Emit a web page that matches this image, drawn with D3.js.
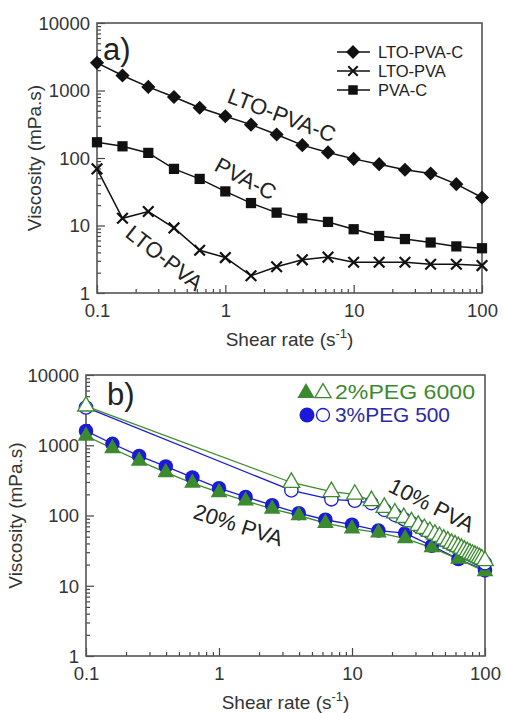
<!DOCTYPE html>
<html>
<head>
<meta charset="utf-8">
<script src="https://cdn.jsdelivr.net/npm/d3@7"></script>
<style>
  body { margin: 0; background: #fff; }
  text { font-family: "Liberation Sans", Arial, sans-serif; }
</style>
</head>
<body>
<div id="chart"></div>
<script>
// shear rates (s-1) used by most series
var rates = [0.1, 0.158, 0.251, 0.398, 0.631, 1, 1.585, 2.51, 3.98, 6.31, 10, 15.8, 25.1, 39.8, 63.1, 100];

// panel a
var ltoPvaC = [2570, 1670, 1130, 800, 555, 415, 312, 223, 155, 121, 97, 81, 67, 59, 41, 26];
var ltoPva  = [69, 12.8, 16.1, 9.2, 4.3, 3.35, 1.8, 2.45, 3.1, 3.4, 2.85, 2.85, 2.85, 2.67, 2.67, 2.55];
var pvaC    = [171, 149, 119, 69, 49, 32, 21.5, 15.5, 12.8, 11.3, 8.8, 7.0, 6.3, 5.6, 4.9, 4.6];

// panel b, 20% PVA (filled markers)
var peg6000_20 = [1360, 900, 600, 410, 290, 213, 162, 124, 100, 78, 65, 57, 47, 35, 24, 16];
var peg500_20  = [1600, 1050, 705, 500, 348, 245, 184, 140, 108, 87, 74, 61, 56, 37, 24, 16.5];

// panel b, 10% PVA (open markers)
var rates10 = [0.1, 3.5, 7, 10.5, 14, 17.5, 21, 24.5, 28, 31.5, 35, 38.5, 42, 45.5, 49, 52.5, 56, 59.5, 63, 66.5, 70, 73.5, 77, 80.5, 84, 87.5, 91, 94.5, 100];
var peg6000_10 = [3600, 295, 218, 200, 162, 130, 108, 93, 81, 72, 65, 59, 54, 50, 46, 43, 40, 38, 36, 34, 32, 30.5, 29, 28, 27, 26, 25, 24, 22.6];
var peg500_10  = [3450, 228, 170, 162, 150, 120, 102, 89, 78, 70, 63, 57, 52, 48, 44.5, 41.5, 39, 37, 35, 33, 31, 29.5, 28, 27, 26, 25, 24, 23, 21];

var yTicks = [1, 10, 100, 1000, 10000];
var xTicks = [0.1, 1, 10, 100];

var W = 505, H = 713;
var green = "#3c8a2e", blue = "#1a1ad8";

var svg = d3.select("#chart").append("svg")
  .attr("width", W).attr("height", H);

function minorTicks(lo, hi){
  var out = [];
  for (var e = Math.log10(lo); e < Math.log10(hi); e++) {
    for (var k = 2; k <= 9; k++) out.push(k * Math.pow(10, e));
  }
  return out;
}

function drawFrame(p){
  var g = svg.append("g");
  var x = d3.scaleLog().domain([0.1, 100]).range([p.left, p.right]);
  var y = d3.scaleLog().domain([1, 10000]).range([p.bottom, p.top]);

  // minor ticks
  g.append("g").attr("transform", "translate(" + p.left + ",0)")
    .call(d3.axisLeft(y).tickValues(minorTicks(1, 10000)).tickSize(-4).tickFormat(""));
  g.append("g").attr("transform", "translate(0," + p.bottom + ")")
    .call(d3.axisBottom(x).tickValues(minorTicks(0.1, 100)).tickSize(-4).tickFormat(""));

  // major ticks + labels
  var ya = g.append("g").attr("transform", "translate(" + p.left + ",0)")
    .call(d3.axisLeft(y).tickValues(yTicks).tickSize(-8).tickPadding(7).tickFormat(d3.format("d")));
  var xa = g.append("g").attr("transform", "translate(0," + p.bottom + ")")
    .call(d3.axisBottom(x).tickValues(xTicks).tickSize(-8).tickPadding(11).tickFormat(function(d){ return d < 1 ? "0.1" : d3.format("d")(d); }));
  g.selectAll(".domain").remove();
  g.selectAll(".tick line").attr("stroke", "#444").attr("stroke-width", 1.2);
  ya.selectAll("text").attr("font-size", 18.5).attr("fill", "#333").attr("dy", "0.35em");
  xa.selectAll("text").attr("font-size", 18.5).attr("fill", "#333");

  g.append("rect")
    .attr("x", p.left).attr("y", p.top)
    .attr("width", p.right - p.left).attr("height", p.bottom - p.top)
    .attr("fill", "none").attr("stroke", "#555").attr("stroke-width", 1.6);

  // axis titles
  var xt = g.append("text").attr("x", (p.left + p.right) / 2).attr("y", p.xTitleY)
    .attr("text-anchor", "middle").attr("font-size", 19).attr("fill", "#333");
  xt.append("tspan").text("Shear rate (s");
  xt.append("tspan").attr("dy", -8).attr("font-size", 13).text("-1");
  xt.append("tspan").attr("dy", 8).text(")");

  g.append("text")
    .attr("transform", "translate(" + p.yTitleX + "," + ((p.top + p.bottom) / 2) + ") rotate(-90)")
    .attr("text-anchor", "middle").attr("font-size", 19).attr("fill", "#333")
    .text("Viscosity (mPa.s)");

  return { x: x, y: y };
}

function path(sc, xs, ys, color, w){
  svg.append("path")
    .datum(xs.map(function(d, i){ return [d, ys[i]]; }))
    .attr("fill", "none").attr("stroke", color).attr("stroke-width", w)
    .attr("d", d3.line().x(function(d){ return sc.x(d[0]); }).y(function(d){ return sc.y(d[1]); }));
}

function markers(sc, xs, ys, type, size, fill, stroke, sw){
  svg.append("g").selectAll("path")
    .data(xs.map(function(d, i){ return [d, ys[i]]; }))
    .enter().append("path")
    .attr("transform", function(d){
      var t = "translate(" + sc.x(d[0]) + "," + sc.y(d[1]) + ")";
      return type === "diamond" ? t + " rotate(45)" : t;
    })
    .attr("d", d3.symbol().type(
      type === "circle" ? d3.symbolCircle :
      type === "triangle" ? d3.symbolTriangle :
      type === "cross" ? d3.symbolTimes : d3.symbolSquare).size(size))
    .attr("fill", fill).attr("stroke", stroke).attr("stroke-width", sw);
}

// ---------- panel a ----------
var a = drawFrame({ left: 97, right: 482, top: 23, bottom: 293, xTitleY: 346, yTitleX: 41 });

path(a, rates, ltoPvaC, "#111", 1.5);
path(a, rates, pvaC, "#111", 1.5);
path(a, rates, ltoPva, "#111", 1.5);
markers(a, rates, ltoPvaC, "diamond", 100, "#111", "none", 0);
markers(a, rates, pvaC, "square", 105, "#111", "none", 0);
markers(a, rates, ltoPva, "cross", 75, "none", "#111", 2.2);

svg.append("text").attr("x", 103).attr("y", 60).attr("font-size", 31).attr("fill", "#222").text("a)");

function rotLabel(txt, x, y, ang, size, color){
  svg.append("text").attr("transform", "translate(" + x + "," + y + ") rotate(" + ang + ")")
    .attr("font-size", size).attr("fill", color || "#222").text(txt);
}
rotLabel("LTO-PVA-C", 226, 102, 21, 22);
rotLabel("PVA-C", 213, 170, 28, 22);
rotLabel("LTO-PVA", 124, 236, 38, 22);

// legend a
var legA = [["LTO-PVA-C", "diamond", 95], ["LTO-PVA", "cross", 60], ["PVA-C", "square", 90]];
legA.forEach(function(l, i){
  var ly = 52 + i * 19;
  svg.append("line").attr("x1", 337).attr("x2", 370).attr("y1", ly).attr("y2", ly)
    .attr("stroke", "#111").attr("stroke-width", 1.5);
  svg.append("path").attr("transform", "translate(353," + ly + ")" + (l[1] === "diamond" ? " rotate(45)" : ""))
    .attr("d", d3.symbol().type(l[1] === "cross" ? d3.symbolTimes : d3.symbolSquare).size(l[2]))
    .attr("fill", l[1] === "cross" ? "none" : "#111")
    .attr("stroke", l[1] === "cross" ? "#111" : "none").attr("stroke-width", 2);
  svg.append("text").attr("x", 378).attr("y", ly + 6).attr("font-size", 16.5).attr("fill", "#222").text(l[0]);
});

// ---------- panel b ----------
var b = drawFrame({ left: 86, right: 485, top: 375, bottom: 656, xTitleY: 709, yTitleX: 22 });

path(b, rates10, peg500_10, blue, 1.3);
path(b, rates10, peg6000_10, green, 1.3);
path(b, rates, peg500_20, blue, 1.3);
path(b, rates, peg6000_20, green, 1.3);
markers(b, rates, peg500_20, "circle", 165, blue, "none", 0);
markers(b, rates, peg6000_20, "triangle", 120, green, "none", 0);
markers(b, rates10, peg500_10, "circle", 140, "#fff", blue, 1.3);
markers(b, rates10, peg6000_10, "triangle", 120, "#fff", green, 1.3);

svg.append("text").attr("x", 107).attr("y", 405).attr("font-size", 31).attr("fill", "#222").text("b)");
rotLabel("20% PVA", 192, 518, 18, 22);
rotLabel("10% PVA", 387, 491, 27, 22);

// legend b
svg.append("path").attr("transform", "translate(306,393)").attr("d", d3.symbol().type(d3.symbolTriangle).size(130)).attr("fill", green);
svg.append("path").attr("transform", "translate(323,393)").attr("d", d3.symbol().type(d3.symbolTriangle).size(115)).attr("fill", "#fff").attr("stroke", green).attr("stroke-width", 1.3);
svg.append("text").attr("x", 335).attr("y", 399).attr("font-size", 21)
  .attr("textLength", 140).attr("lengthAdjust", "spacingAndGlyphs").attr("fill", green).text("2%PEG 6000");
svg.append("circle").attr("cx", 307).attr("cy", 415).attr("r", 7.5).attr("fill", blue);
svg.append("circle").attr("cx", 323).attr("cy", 415).attr("r", 6.5).attr("fill", "#fff").attr("stroke", blue).attr("stroke-width", 1.3);
svg.append("text").attr("x", 335).attr("y", 422).attr("font-size", 21)
  .attr("textLength", 115).attr("lengthAdjust", "spacingAndGlyphs").attr("fill", "#2a2aa8").text("3%PEG 500");
</script>
</body>
</html>
